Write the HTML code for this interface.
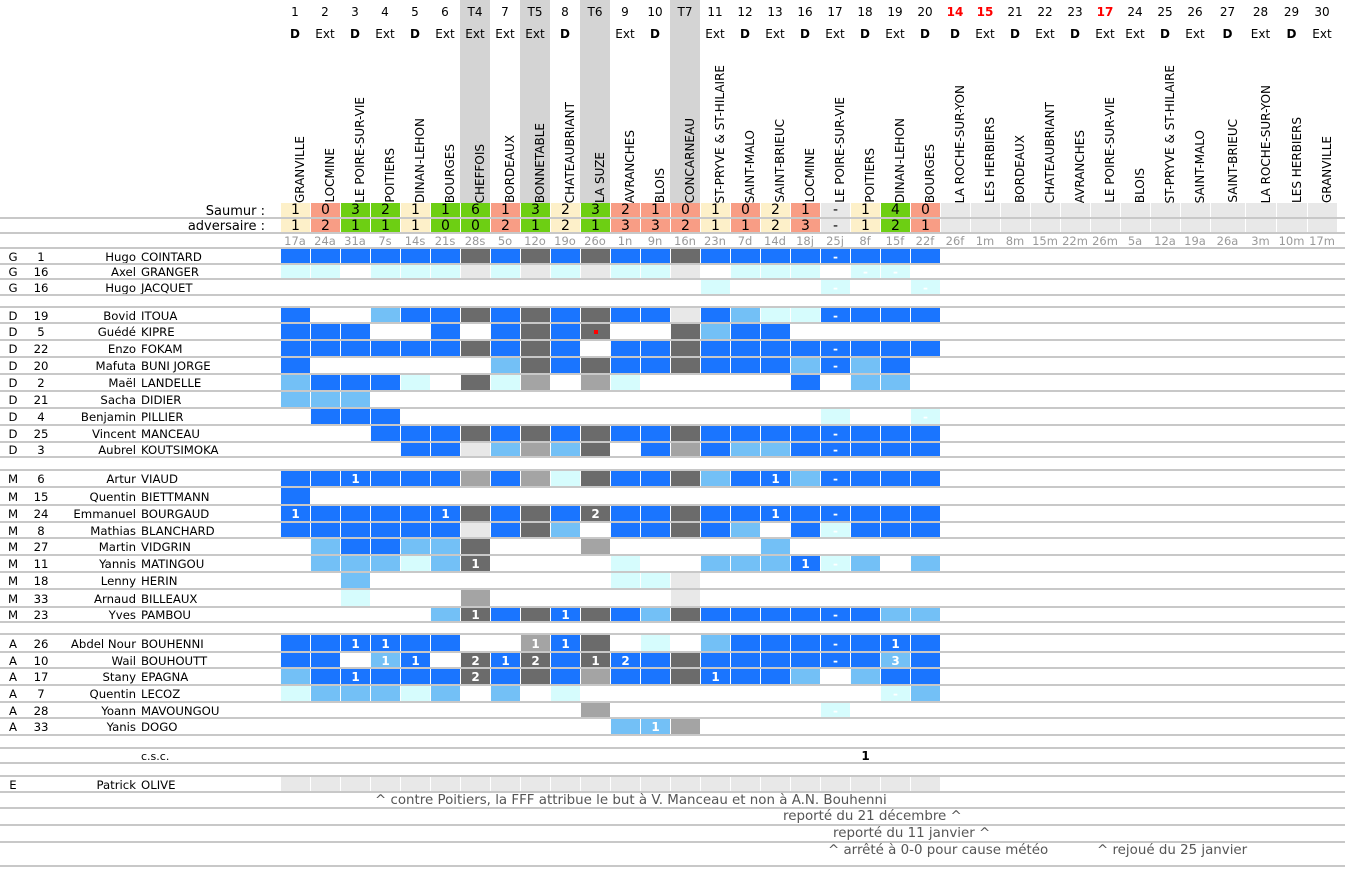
<!DOCTYPE html>
<html><head><meta charset="utf-8">
<style>
*{margin:0;padding:0}
body{width:1345px;height:874px;position:relative;background:#fff;font-family:"DejaVu Sans","Liberation Sans",sans-serif;font-size:11.7px;color:#000;overflow:hidden}
.band{position:absolute;top:0;width:30px;height:203px;background:#d4d4d4}
.hr{position:absolute;left:280px;display:flex}
.hr>div{width:30px;text-align:center;flex:none;box-sizing:border-box}
.hr>div.w35{width:35px}.hr>div.w31{width:31px}
.num{top:5px;font-size:12px}
.num .red{color:#f00;font-weight:bold}
.de{top:27px;font-size:12px}
.de b{font-weight:bold}
.tn{position:absolute;bottom:671px;writing-mode:vertical-rl;transform:rotate(180deg);font-size:12px;white-space:nowrap;line-height:14px}
.sc{height:15px;font-size:14px;line-height:15px}
.sc>div{border-left:1px solid #fff}
.Y{background:#fdf0c9}.R{background:#f89d85}.V{background:#6dcf13}.E{background:#e8e8e8}
.dt{top:235px;font-size:11.5px;color:#999;line-height:13px}
.lab{position:absolute;right:1080px;font-size:13px;line-height:15px}
.r{position:absolute;left:0;width:1345px;border-top:2px solid #c8c8c8;box-sizing:border-box}
.r span{position:absolute;top:0;bottom:0;display:flex;align-items:center}
.p{left:0;width:26px;justify-content:center}
.n{left:22px;width:38px;justify-content:center}
.f{left:0;width:136px;justify-content:flex-end}
.l{left:141px}
.g{position:absolute;left:280px;top:0;bottom:0;display:flex}
.g i{width:30px;height:100%;border-left:1px solid #fff;box-sizing:border-box;font-style:normal;color:#fff;font-weight:bold;text-align:center;display:flex;align-items:center;justify-content:center;font-size:12px;position:relative}
.B{background:#1a75ff}.L{background:#73c0f6}.C{background:#d6fcfd}.D{background:#6b6b6b}.M{background:#a4a4a4}.G{background:#e8e8e8}
.hl{position:absolute;left:0;width:1345px;height:2px;background:#c8c8c8}
.note{position:absolute;color:#555;font-size:13.4px;line-height:16px;white-space:nowrap}
</style></head><body>
<div class="band" style="left:460px"></div>
<div class="band" style="left:520px"></div>
<div class="band" style="left:580px"></div>
<div class="band" style="left:670px"></div>

<div class="hr num"><div>1</div><div>2</div><div>3</div><div>4</div><div>5</div><div>6</div><div>T4</div><div>7</div><div>T5</div><div>8</div><div>T6</div><div>9</div><div>10</div><div>T7</div><div>11</div><div>12</div><div>13</div><div>16</div><div>17</div><div>18</div><div>19</div><div>20</div><div class="red">14</div><div class="red">15</div><div>21</div><div>22</div><div>23</div><div class="red">17</div><div>24</div><div>25</div><div>26</div><div class="w35">27</div><div class="w31">28</div><div class="w31">29</div><div>30</div></div>
<div class="hr de"><div><b>D</b></div><div>Ext</div><div><b>D</b></div><div>Ext</div><div><b>D</b></div><div>Ext</div><div>Ext</div><div>Ext</div><div>Ext</div><div><b>D</b></div><div></div><div>Ext</div><div><b>D</b></div><div></div><div>Ext</div><div><b>D</b></div><div>Ext</div><div><b>D</b></div><div>Ext</div><div><b>D</b></div><div>Ext</div><div><b>D</b></div><div><b>D</b></div><div>Ext</div><div><b>D</b></div><div>Ext</div><div><b>D</b></div><div>Ext</div><div>Ext</div><div><b>D</b></div><div>Ext</div><div class="w35"><b>D</b></div><div class="w31">Ext</div><div class="w31"><b>D</b></div><div>Ext</div></div>

<div class="tn" style="left:293px">GRANVILLE</div>
<div class="tn" style="left:323px">LOCMINE</div>
<div class="tn" style="left:353px">LE POIRE-SUR-VIE</div>
<div class="tn" style="left:383px">POITIERS</div>
<div class="tn" style="left:413px">DINAN-LEHON</div>
<div class="tn" style="left:443px">BOURGES</div>
<div class="tn" style="left:473px">CHEFFOIS</div>
<div class="tn" style="left:503px">BORDEAUX</div>
<div class="tn" style="left:533px">BONNETABLE</div>
<div class="tn" style="left:563px">CHATEAUBRIANT</div>
<div class="tn" style="left:593px">LA SUZE</div>
<div class="tn" style="left:623px">AVRANCHES</div>
<div class="tn" style="left:653px">BLOIS</div>
<div class="tn" style="left:683px">CONCARNEAU</div>
<div class="tn" style="left:713px">ST-PRYVE &amp; ST-HILAIRE</div>
<div class="tn" style="left:743px">SAINT-MALO</div>
<div class="tn" style="left:773px">SAINT-BRIEUC</div>
<div class="tn" style="left:803px">LOCMINE</div>
<div class="tn" style="left:833px">LE POIRE-SUR-VIE</div>
<div class="tn" style="left:863px">POITIERS</div>
<div class="tn" style="left:893px">DINAN-LEHON</div>
<div class="tn" style="left:923px">BOURGES</div>
<div class="tn" style="left:953px">LA ROCHE-SUR-YON</div>
<div class="tn" style="left:983px">LES HERBIERS</div>
<div class="tn" style="left:1013px">BORDEAUX</div>
<div class="tn" style="left:1043px">CHATEAUBRIANT</div>
<div class="tn" style="left:1073px">AVRANCHES</div>
<div class="tn" style="left:1103px">LE POIRE-SUR-VIE</div>
<div class="tn" style="left:1133px">BLOIS</div>
<div class="tn" style="left:1163px">ST-PRYVE &amp; ST-HILAIRE</div>
<div class="tn" style="left:1193px">SAINT-MALO</div>
<div class="tn" style="left:1226px">SAINT-BRIEUC</div>
<div class="tn" style="left:1259px">LA ROCHE-SUR-YON</div>
<div class="tn" style="left:1290px">LES HERBIERS</div>
<div class="tn" style="left:1320px">GRANVILLE</div>

<div class="lab" style="top:204px">Saumur :</div>
<div class="lab" style="top:219px">adversaire :</div>
<div class="hr sc" style="top:203px"><div class="Y">1</div><div class="R">0</div><div class="V">3</div><div class="V">2</div><div class="Y">1</div><div class="V">1</div><div class="V">6</div><div class="R">1</div><div class="V">3</div><div class="Y">2</div><div class="V">3</div><div class="R">2</div><div class="R">1</div><div class="R">0</div><div class="Y">1</div><div class="R">0</div><div class="Y">2</div><div class="R">1</div><div class="E">-</div><div class="Y">1</div><div class="V">4</div><div class="R">0</div><div class="E"></div><div class="E"></div><div class="E"></div><div class="E"></div><div class="E"></div><div class="E"></div><div class="E"></div><div class="E"></div><div class="E"></div><div class="E w35"></div><div class="E w31"></div><div class="E w31"></div><div class="E"></div></div>
<div class="hr sc" style="top:219px;height:14px"><div class="Y">1</div><div class="R">2</div><div class="V">1</div><div class="V">1</div><div class="Y">1</div><div class="V">0</div><div class="V">0</div><div class="R">2</div><div class="V">1</div><div class="Y">2</div><div class="V">1</div><div class="R">3</div><div class="R">3</div><div class="R">2</div><div class="Y">1</div><div class="R">1</div><div class="Y">2</div><div class="R">3</div><div class="E">-</div><div class="Y">1</div><div class="V">2</div><div class="R">1</div><div class="E"></div><div class="E"></div><div class="E"></div><div class="E"></div><div class="E"></div><div class="E"></div><div class="E"></div><div class="E"></div><div class="E"></div><div class="E w35"></div><div class="E w31"></div><div class="E w31"></div><div class="E"></div></div>
<div class="hl" style="top:217px"></div>
<div class="hl" style="top:232px"></div>
<div class="hr dt"><div>17a</div><div>24a</div><div>31a</div><div>7s</div><div>14s</div><div>21s</div><div>28s</div><div>5o</div><div>12o</div><div>19o</div><div>26o</div><div>1n</div><div>9n</div><div>16n</div><div>23n</div><div>7d</div><div>14d</div><div>18j</div><div>25j</div><div>8f</div><div>15f</div><div>22f</div><div>26f</div><div>1m</div><div>8m</div><div>15m</div><div>22m</div><div>26m</div><div>5a</div><div>12a</div><div>19a</div><div class="w35">26a</div><div class="w31">3m</div><div class="w31">10m</div><div>17m</div></div>

<div class="r" style="top:247px;height:17px"><span class="p">G</span><span class="n">1</span><span class="f">Hugo</span><span class="l">COINTARD</span><div class="g"><i class="B"></i><i class="B"></i><i class="B"></i><i class="B"></i><i class="B"></i><i class="B"></i><i class="D"></i><i class="B"></i><i class="D"></i><i class="B"></i><i class="D"></i><i class="B"></i><i class="B"></i><i class="D"></i><i class="B"></i><i class="B"></i><i class="B"></i><i class="B"></i><i class="B">-</i><i class="B"></i><i class="B"></i><i class="B"></i></div></div>
<div class="r" style="top:263px;height:16px"><span class="p">G</span><span class="n">16</span><span class="f">Axel</span><span class="l">GRANGER</span><div class="g"><i class="C"></i><i class="C"></i><i></i><i class="C"></i><i class="C"></i><i class="C"></i><i class="G"></i><i class="C"></i><i class="G"></i><i class="C"></i><i class="G"></i><i class="C"></i><i class="C"></i><i class="G"></i><i></i><i class="C"></i><i class="C"></i><i class="C"></i><i></i><i class="C">-</i><i class="C">-</i><i></i></div></div>
<div class="r" style="top:278px;height:17px"><span class="p">G</span><span class="n">16</span><span class="f">Hugo</span><span class="l">JACQUET</span><div class="g"><i></i><i></i><i></i><i></i><i></i><i></i><i></i><i></i><i></i><i></i><i></i><i></i><i></i><i></i><i class="C"></i><i></i><i></i><i></i><i class="C">-</i><i></i><i></i><i class="C">-</i></div></div>
<div class="r" style="top:294px;height:13px"></div>

<div class="r" style="top:306px;height:17px"><span class="p">D</span><span class="n">19</span><span class="f">Bovid</span><span class="l">ITOUA</span><div class="g"><i class="B"></i><i></i><i></i><i class="L"></i><i class="B"></i><i class="B"></i><i class="D"></i><i class="B"></i><i class="D"></i><i class="B"></i><i class="D"></i><i class="B"></i><i class="B"></i><i class="G"></i><i class="B"></i><i class="L"></i><i class="C"></i><i class="C"></i><i class="B">-</i><i class="B"></i><i class="B"></i><i class="B"></i></div></div>
<div class="r" style="top:322px;height:18px"><span class="p">D</span><span class="n">5</span><span class="f">Guédé</span><span class="l">KIPRE</span><div class="g"><i class="B"></i><i class="B"></i><i class="B"></i><i></i><i></i><i class="B"></i><i></i><i class="B"></i><i class="D"></i><i class="B"></i><i class="D"><em style="width:4px;height:4px;background:#f00;display:block"></em></i><i></i><i></i><i class="D"></i><i class="L"></i><i class="B"></i><i class="B"></i><i></i><i></i><i></i><i></i><i></i></div></div>
<div class="r" style="top:339px;height:18px"><span class="p">D</span><span class="n">22</span><span class="f">Enzo</span><span class="l">FOKAM</span><div class="g"><i class="B"></i><i class="B"></i><i class="B"></i><i class="B"></i><i class="B"></i><i class="B"></i><i class="D"></i><i class="B"></i><i class="D"></i><i class="B"></i><i></i><i class="B"></i><i class="B"></i><i class="D"></i><i class="B"></i><i class="B"></i><i class="B"></i><i class="B"></i><i class="B">-</i><i class="B"></i><i class="B"></i><i class="B"></i></div></div>
<div class="r" style="top:356px;height:18px"><span class="p">D</span><span class="n">20</span><span class="f">Mafuta</span><span class="l">BUNI JORGE</span><div class="g"><i class="B"></i><i></i><i></i><i></i><i></i><i></i><i></i><i class="L"></i><i class="D"></i><i class="B"></i><i class="D"></i><i class="B"></i><i class="B"></i><i class="D"></i><i class="B"></i><i class="B"></i><i class="B"></i><i class="L"></i><i class="B">-</i><i class="L"></i><i class="B"></i><i></i></div></div>
<div class="r" style="top:373px;height:18px"><span class="p">D</span><span class="n">2</span><span class="f">Maël</span><span class="l">LANDELLE</span><div class="g"><i class="L"></i><i class="B"></i><i class="B"></i><i class="B"></i><i class="C"></i><i></i><i class="D"></i><i class="C"></i><i class="M"></i><i></i><i class="M"></i><i class="C"></i><i></i><i></i><i></i><i></i><i></i><i class="B"></i><i></i><i class="L"></i><i class="L"></i><i></i></div></div>
<div class="r" style="top:390px;height:18px"><span class="p">D</span><span class="n">21</span><span class="f">Sacha</span><span class="l">DIDIER</span><div class="g"><i class="L"></i><i class="L"></i><i class="L"></i></div></div>
<div class="r" style="top:407px;height:18px"><span class="p">D</span><span class="n">4</span><span class="f">Benjamin</span><span class="l">PILLIER</span><div class="g"><i></i><i class="B"></i><i class="B"></i><i class="B"></i><i></i><i></i><i></i><i></i><i></i><i></i><i></i><i></i><i></i><i></i><i></i><i></i><i></i><i></i><i class="C"></i><i></i><i></i><i class="C">-</i></div></div>
<div class="r" style="top:424px;height:18px"><span class="p">D</span><span class="n">25</span><span class="f">Vincent</span><span class="l">MANCEAU</span><div class="g"><i></i><i></i><i></i><i class="B"></i><i class="B"></i><i class="B"></i><i class="D"></i><i class="B"></i><i class="D"></i><i class="B"></i><i class="D"></i><i class="B"></i><i class="B"></i><i class="D"></i><i class="B"></i><i class="B"></i><i class="B"></i><i class="B"></i><i class="B">-</i><i class="B"></i><i class="B"></i><i class="B"></i></div></div>
<div class="r" style="top:441px;height:16px"><span class="p">D</span><span class="n">3</span><span class="f">Aubrel</span><span class="l">KOUTSIMOKA</span><div class="g"><i></i><i></i><i></i><i></i><i class="B"></i><i class="B"></i><i class="G"></i><i class="L"></i><i class="M"></i><i class="L"></i><i class="D"></i><i></i><i class="B"></i><i class="M"></i><i class="B"></i><i class="L"></i><i class="L"></i><i class="B"></i><i class="B">-</i><i class="B"></i><i class="B"></i><i class="B"></i></div></div>
<div class="r" style="top:456px;height:14px"></div>

<div class="r" style="top:469px;height:18px"><span class="p">M</span><span class="n">6</span><span class="f">Artur</span><span class="l">VIAUD</span><div class="g"><i class="B"></i><i class="B"></i><i class="B">1</i><i class="B"></i><i class="B"></i><i class="B"></i><i class="M"></i><i class="B"></i><i class="M"></i><i class="C"></i><i class="D"></i><i class="B"></i><i class="B"></i><i class="D"></i><i class="L"></i><i class="B"></i><i class="B">1</i><i class="L"></i><i class="B">-</i><i class="B"></i><i class="B"></i><i class="B"></i></div></div>
<div class="r" style="top:486px;height:19px"><span class="p">M</span><span class="n">15</span><span class="f">Quentin</span><span class="l">BIETTMANN</span><div class="g"><i class="B"></i></div></div>
<div class="r" style="top:504px;height:18px"><span class="p">M</span><span class="n">24</span><span class="f">Emmanuel</span><span class="l">BOURGAUD</span><div class="g"><i class="B">1</i><i class="B"></i><i class="B"></i><i class="B"></i><i class="B"></i><i class="B">1</i><i class="D"></i><i class="B"></i><i class="D"></i><i class="B"></i><i class="D">2</i><i class="B"></i><i class="B"></i><i class="D"></i><i class="B"></i><i class="B"></i><i class="B">1</i><i class="B"></i><i class="B">-</i><i class="B"></i><i class="B"></i><i class="B"></i></div></div>
<div class="r" style="top:521px;height:17px"><span class="p">M</span><span class="n">8</span><span class="f">Mathias</span><span class="l">BLANCHARD</span><div class="g"><i class="B"></i><i class="B"></i><i class="B"></i><i class="B"></i><i class="B"></i><i class="B"></i><i class="G"></i><i class="B"></i><i class="D"></i><i class="L"></i><i></i><i class="B"></i><i class="B"></i><i class="D"></i><i class="B"></i><i class="L"></i><i></i><i class="B"></i><i class="C">-</i><i class="B"></i><i class="B"></i><i class="B"></i></div></div>
<div class="r" style="top:537px;height:18px"><span class="p">M</span><span class="n">27</span><span class="f">Martin</span><span class="l">VIDGRIN</span><div class="g"><i></i><i class="L"></i><i class="B"></i><i class="B"></i><i class="L"></i><i class="L"></i><i class="D"></i><i></i><i></i><i></i><i class="M"></i><i></i><i></i><i></i><i></i><i></i><i class="L"></i></div></div>
<div class="r" style="top:554px;height:18px"><span class="p">M</span><span class="n">11</span><span class="f">Yannis</span><span class="l">MATINGOU</span><div class="g"><i></i><i class="L"></i><i class="L"></i><i class="L"></i><i class="C"></i><i class="L"></i><i class="D">1</i><i></i><i></i><i></i><i></i><i class="C"></i><i></i><i></i><i class="L"></i><i class="L"></i><i class="L"></i><i class="B">1</i><i class="C">-</i><i class="L"></i><i></i><i class="L"></i></div></div>
<div class="r" style="top:571px;height:18px"><span class="p">M</span><span class="n">18</span><span class="f">Lenny</span><span class="l">HERIN</span><div class="g"><i></i><i></i><i class="L"></i><i></i><i></i><i></i><i></i><i></i><i></i><i></i><i></i><i class="C"></i><i class="C"></i><i class="G"></i></div></div>
<div class="r" style="top:588px;height:19px"><span class="p">M</span><span class="n">33</span><span class="f">Arnaud</span><span class="l">BILLEAUX</span><div class="g"><i></i><i></i><i class="C"></i><i></i><i></i><i></i><i class="M"></i><i></i><i></i><i></i><i></i><i></i><i></i><i class="G"></i></div></div>
<div class="r" style="top:606px;height:16px"><span class="p">M</span><span class="n">23</span><span class="f">Yves</span><span class="l">PAMBOU</span><div class="g"><i></i><i></i><i></i><i></i><i></i><i class="L"></i><i class="D">1</i><i class="B"></i><i class="D"></i><i class="B">1</i><i class="D"></i><i class="B"></i><i class="L"></i><i class="D"></i><i class="B"></i><i class="B"></i><i class="B"></i><i class="B"></i><i class="B">-</i><i class="B"></i><i class="L"></i><i class="L"></i></div></div>
<div class="r" style="top:621px;height:13px"></div>

<div class="r" style="top:633px;height:19px"><span class="p">A</span><span class="n">26</span><span class="f">Abdel Nour</span><span class="l">BOUHENNI</span><div class="g"><i class="B"></i><i class="B"></i><i class="B">1</i><i class="B">1</i><i class="B"></i><i class="B"></i><i></i><i></i><i class="M">1</i><i class="B">1</i><i class="D"></i><i></i><i class="C"></i><i></i><i class="L"></i><i class="B"></i><i class="B"></i><i class="B"></i><i class="B">-</i><i class="B"></i><i class="B">1</i><i class="B"></i></div></div>
<div class="r" style="top:651px;height:17px"><span class="p">A</span><span class="n">10</span><span class="f">Wail</span><span class="l">BOUHOUTT</span><div class="g"><i class="B"></i><i class="B"></i><i></i><i class="L">1</i><i class="B">1</i><i></i><i class="D">2</i><i class="B">1</i><i class="D">2</i><i class="B"></i><i class="D">1</i><i class="B">2</i><i class="B"></i><i class="D"></i><i class="B"></i><i class="B"></i><i class="B"></i><i class="B"></i><i class="B">-</i><i class="B"></i><i class="L">3</i><i class="B"></i></div></div>
<div class="r" style="top:667px;height:18px"><span class="p">A</span><span class="n">17</span><span class="f">Stany</span><span class="l">EPAGNA</span><div class="g"><i class="L"></i><i class="B"></i><i class="B">1</i><i class="B"></i><i class="B"></i><i class="B"></i><i class="D">2</i><i class="B"></i><i class="D"></i><i class="B"></i><i class="M"></i><i class="B"></i><i class="B"></i><i class="D"></i><i class="B">1</i><i class="B"></i><i class="B"></i><i class="L"></i><i></i><i class="L"></i><i class="B"></i><i class="B"></i></div></div>
<div class="r" style="top:684px;height:18px"><span class="p">A</span><span class="n">7</span><span class="f">Quentin</span><span class="l">LECOZ</span><div class="g"><i class="C"></i><i class="L"></i><i class="L"></i><i class="L"></i><i class="C"></i><i class="L"></i><i></i><i class="L"></i><i></i><i class="C"></i><i></i><i></i><i></i><i></i><i></i><i></i><i></i><i></i><i></i><i></i><i class="C">-</i><i class="L"></i></div></div>
<div class="r" style="top:701px;height:17px"><span class="p">A</span><span class="n">28</span><span class="f">Yoann</span><span class="l">MAVOUNGOU</span><div class="g"><i></i><i></i><i></i><i></i><i></i><i></i><i></i><i></i><i></i><i></i><i class="M"></i><i></i><i></i><i></i><i></i><i></i><i></i><i></i><i class="C">-</i></div></div>
<div class="r" style="top:717px;height:18px"><span class="p">A</span><span class="n">33</span><span class="f">Yanis</span><span class="l">DOGO</span><div class="g"><i></i><i></i><i></i><i></i><i></i><i></i><i></i><i></i><i></i><i></i><i></i><i class="L"></i><i class="L">1</i><i class="M"></i></div></div>
<div class="r" style="top:734px;height:14px"></div>
<div class="r" style="top:747px;height:16px"><span class="l" style="font-size:11px">c.s.c.</span><div class="g"><i></i><i></i><i></i><i></i><i></i><i></i><i></i><i></i><i></i><i></i><i></i><i></i><i></i><i></i><i></i><i></i><i></i><i></i><i></i><i style="color:#000">1</i></div></div>
<div class="r" style="top:762px;height:14px"></div>
<div class="r" style="top:775px;height:17px"><span class="p">E</span><span class="f">Patrick</span><span class="l">OLIVE</span><div class="g"><i class="G"></i><i class="G"></i><i class="G"></i><i class="G"></i><i class="G"></i><i class="G"></i><i class="G"></i><i class="G"></i><i class="G"></i><i class="G"></i><i class="G"></i><i class="G"></i><i class="G"></i><i class="G"></i><i class="G"></i><i class="G"></i><i class="G"></i><i class="G"></i><i class="G"></i><i class="G"></i><i class="G"></i><i class="G"></i></div></div>
<div class="hl" style="top:791px"></div>
<div class="hl" style="top:807px"></div>
<div class="hl" style="top:824px"></div>
<div class="hl" style="top:841px"></div>
<div class="hl" style="top:865px"></div>
<div class="note" style="top:793px;left:375px">^ contre Poitiers, la FFF attribue le but à V. Manceau et non à A.N. Bouhenni</div>
<div class="note" style="top:809px;left:783px">reporté du 21 décembre ^</div>
<div class="note" style="top:826px;left:833px">reporté du 11 janvier ^</div>
<div class="note" style="top:843px;left:828px">^ arrêté à 0-0 pour cause météo</div>
<div class="note" style="top:843px;left:1097px">^ rejoué du 25 janvier</div>
</body></html>
